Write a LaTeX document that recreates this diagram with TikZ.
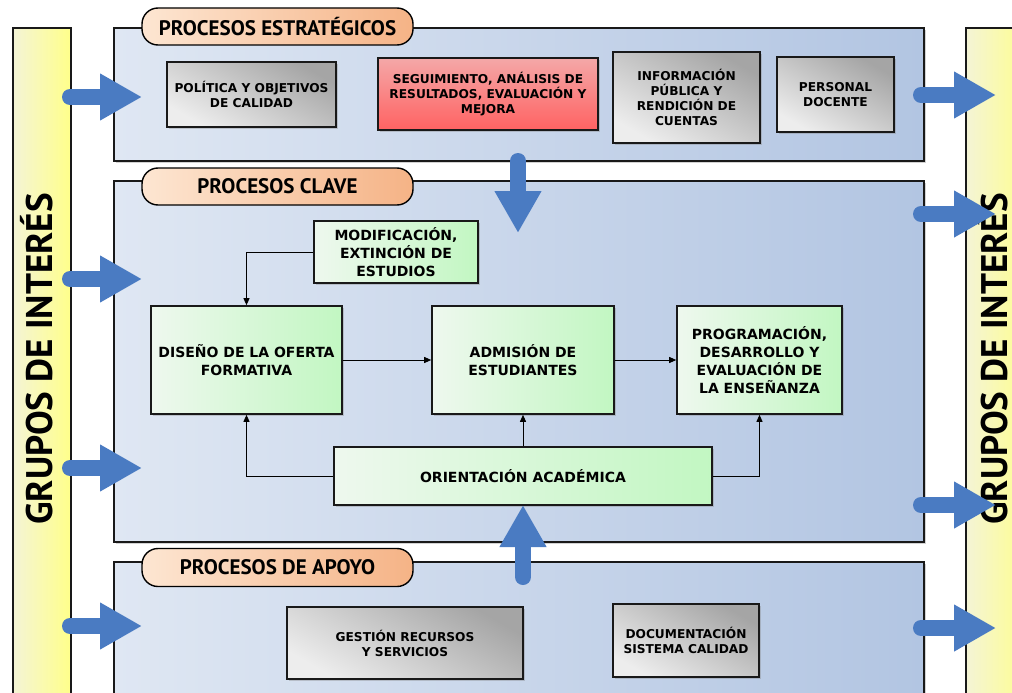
\documentclass[tikz,border=0pt]{standalone}
\usepackage{fontspec}
\setmainfont{DejaVu Sans}
\newfontfamily\tagfont{PT Sans}
\usetikzlibrary{arrows.meta,shadows}
\definecolor{arrowblue}{HTML}{4A7BC2}
\definecolor{panelL}{HTML}{DFE7F3}
\definecolor{panelR}{HTML}{B2C5E2}
\definecolor{tagL}{HTML}{FDE6D2}
\definecolor{tagR}{HTML}{F5B386}
\definecolor{grayL}{HTML}{EDEDED}
\definecolor{grayR}{HTML}{A5A5A5}
\definecolor{redT}{HTML}{F4A8A8}
\definecolor{redB}{HTML}{FF6262}
\definecolor{greenL}{HTML}{EEF8EE}
\definecolor{greenR}{HTML}{C2F7C2}
\definecolor{yelL}{HTML}{F4F4D6}
\definecolor{yelR}{HTML}{FFFF8A}
\tikzset{
  panel/.style={draw=black!90, line width=1.6pt, left color=panelL, right color=panelR,
    drop shadow={shadow xshift=2pt, shadow yshift=-2pt, opacity=0.35}},
  tag/.style={draw=black, line width=1.4pt, rounded corners=16pt, left color=tagL, right color=tagR,
    font=\tagfont\bfseries\fontsize{21}{23}\selectfont, inner sep=0pt},
  bar/.style={draw=black!90, line width=1.6pt, left color=yelL, right color=yelR},
  basebox/.style={draw=black!90, line width=1.6pt, align=center, inner sep=2pt,
    drop shadow={shadow xshift=2pt, shadow yshift=-2pt, opacity=0.35}},
  graybox/.style={basebox, top color=grayL, bottom color=grayR, shading angle=150,
    font=\bfseries\fontsize{12.2}{15}\selectfont},
  redbox/.style={basebox, top color=redT, bottom color=redB,
    font=\bfseries\fontsize{12.2}{15}\selectfont},
  greenbox/.style={basebox, left color=greenL, right color=greenR,
    font=\bfseries\fontsize{14}{18}\selectfont},
  apoyobox/.style={basebox, top color=grayL, bottom color=grayR, shading angle=150,
    font=\bfseries\fontsize{12.2}{15}\selectfont},
  bigarrow/.style={draw=arrowblue, line width=16pt, line cap=round,
    -{Triangle[length=42pt, width=44pt]}},
  conn/.style={draw=black, line width=0.9pt, -{Triangle[length=7pt, width=6pt]}},
  grupos/.style={font=\tagfont\bfseries\fontsize{37}{37}\selectfont, rotate=90, anchor=base, inner sep=0pt}
}
\begin{document}
\begin{tikzpicture}[x=1pt, y=-1pt]
\clip (0,0) rectangle (1012,693);
\fill[white] (0,0) rectangle (1012,693);

% side bars
\node[bar, minimum width=58pt, minimum height=693pt, anchor=north west] (lbar) at (12,27) {};
\node[bar, minimum width=65pt, minimum height=693pt, anchor=north west] (rbar) at (965,27) {};
\node[grupos] (lgrp) at (52,359) {GRUPOS DE INTERÉS};
\node[grupos] (rgrp) at (1007,359) {GRUPOS DE INTERÉS};

% panels
\node[panel, minimum width=810pt, minimum height=133pt, anchor=north west] (pest) at (113,27) {};
\node[panel, minimum width=810pt, minimum height=361pt, anchor=north west] (pcla) at (113,180) {};
\node[panel, minimum width=810pt, minimum height=170pt, anchor=north west] (papo) at (113,561) {};

% tags
\node[tag, minimum width=271pt, minimum height=37pt] (test) at (277.5,26.5) {PROCESOS ESTRATÉGICOS};
\node[tag, minimum width=271pt, minimum height=37pt] (tcla) at (277.5,186.5) {PROCESOS CLAVE};
\node[tag, minimum width=271pt, minimum height=38pt] (tapo) at (277.5,567.5) {PROCESOS DE APOYO};

% strategic boxes
\node[graybox, minimum width=169pt, minimum height=65pt] (pol) at (251.5,94.5) {POLÍTICA Y OBJETIVOS\\DE CALIDAD};
\node[redbox, minimum width=220pt, minimum height=72pt] (seg) at (488,94) {SEGUIMIENTO, ANÁLISIS DE\\RESULTADOS, EVALUACIÓN Y\\MEJORA};
\node[graybox, minimum width=147pt, minimum height=91pt] (inf) at (686.5,97.5) {INFORMACIÓN\\PÚBLICA Y\\RENDICIÓN DE\\CUENTAS};
\node[graybox, minimum width=117pt, minimum height=75pt] (per) at (835.5,94.5) {PERSONAL\\DOCENTE};

% key boxes
\node[greenbox, minimum width=164pt, minimum height=62pt] (mod) at (396,252) {MODIFICACIÓN,\\EXTINCIÓN DE\\ESTUDIOS};
\node[greenbox, minimum width=191pt, minimum height=108pt] (dis) at (246.5,360) {DISEÑO DE LA OFERTA\\FORMATIVA};
\node[greenbox, minimum width=182pt, minimum height=108pt] (adm) at (523,360) {ADMISIÓN DE\\ESTUDIANTES};
\node[greenbox, minimum width=165pt, minimum height=108pt] (prog) at (759.5,360) {PROGRAMACIÓN,\\DESARROLLO Y\\EVALUACIÓN DE\\LA ENSEÑANZA};
\node[greenbox, minimum width=378pt, minimum height=58pt] (ori) at (523,476) {ORIENTACIÓN ACADÉMICA};

% support boxes
\node[apoyobox, minimum width=236pt, minimum height=72pt] (ges) at (405,643) {GESTIÓN RECURSOS\\Y SERVICIOS};
\node[apoyobox, minimum width=146pt, minimum height=73pt] (doc) at (686,640.5) {DOCUMENTACIÓN\\SISTEMA CALIDAD};

% connectors
\draw[conn] (mod.west) -| (dis.north);
\draw[conn] (dis.east) -- (adm.west);
\draw[conn] (adm.east) -- (prog.west);
\draw[conn] (ori.west) -| (dis.south);
\draw[conn] (ori.north) -- (adm.south);
\draw[conn] (ori.east) -| (prog.south);

% big blue arrows
\foreach \y/\n in {97/a, 279/b, 468/c, 626/d}{
  \coordinate (lt\n) at (70,\y);
  \coordinate (lh\n) at (142,\y);
  \draw[bigarrow] (lt\n) -- (lh\n);
}
\foreach \y/\n in {95/a, 214/b, 505/c, 628/d}{
  \coordinate (rt\n) at (921,\y);
  \coordinate (rh\n) at (996,\y);
  \draw[bigarrow] (rt\n) -- (rh\n);
}
\coordinate (dt) at (518,161);
\coordinate (dh) at (518,233);
\draw[bigarrow] (dt) -- (dh);
\coordinate (ut) at (523,577);
\coordinate (uh) at (523,505);
\draw[bigarrow] (ut) -- (uh);
\end{tikzpicture}
\end{document}
